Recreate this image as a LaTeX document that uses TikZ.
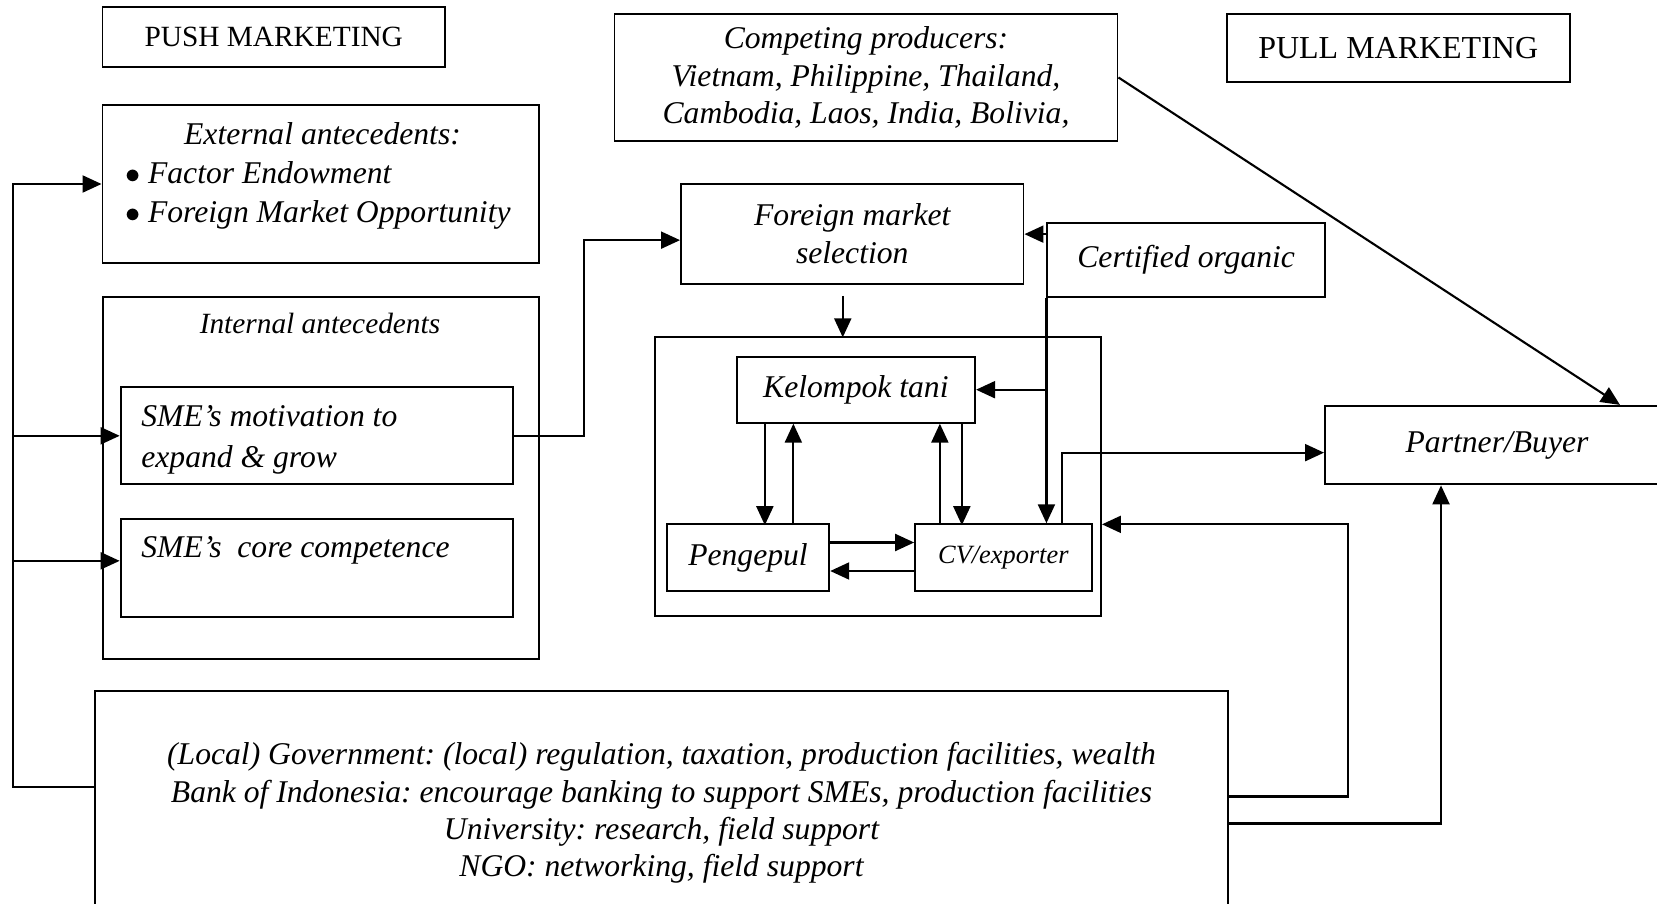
\documentclass[tikz,border=0pt]{standalone}
\usepackage{fontspec}
\setmainfont{Liberation Serif}
\usetikzlibrary{arrows.meta}
\frenchspacing

\begin{document}
\begin{tikzpicture}[box/.style={draw, line width=1.1pt, inner sep=0pt, align=center,
    font=\fontsize{18}{21.6}\selectfont\itshape},
  txt/.style={inner sep=0pt, font=\fontsize{18}{22}\selectfont\itshape},
  arr/.style={line width=1.2pt, -{Triangle[length=0.38cm,width=0.34cm]}}]
\clip (0,0) rectangle (33.14,-18.08);
% Push side
\node[box, font=\fontsize{16.7}{20}\selectfont, minimum width=6.85cm, minimum height=1.2cm] (push) at (5.475,-0.746) {PUSH MARKETING};
\node[box, minimum width=8.73cm, minimum height=3.16cm] (ext) at (6.415,-3.68) {};
\node[txt, text width=7.9cm, align=flush left] (extT) at (6.45,-3.52) {{\centering External antecedents:\par}
  $\bullet$ Factor Endowment\\ $\bullet$ Foreign Market Opportunity};
\node[box, minimum width=8.72cm, minimum height=7.25cm] (intl) at (6.419,-9.557) {};
\node[txt, font=\fontsize{16.7}{20}\selectfont\itshape, anchor=base] (intlT) at (6.4,-6.68) {Internal antecedents};
\node[box, minimum width=7.85cm, minimum height=1.94cm] (motiv) at (6.337,-8.716) {};
\node[txt, font=\fontsize{18}{23.4}\selectfont\itshape, align=left, anchor=west] (motivT) at (2.82,-8.80) {SME’s motivation to\\expand \& grow};
\node[box, minimum width=7.85cm, minimum height=1.95cm] (core) at (6.337,-11.357) {};
\node[txt, anchor=base west] (coreT) at (2.82,-11.154) {SME’s~ core competence};
% Middle
\node[box, minimum width=10.06cm, minimum height=2.53cm] (comp) at (17.32,-1.55) {Competing producers:\\Vietnam, Philippine, Thailand,\\Cambodia, Laos, India, Bolivia,};
\node[box, minimum width=6.85cm, minimum height=2.01cm] (fms) at (17.045,-4.683) {Foreign market\\selection};
\node[box, minimum width=5.55cm, minimum height=1.48cm] (cert) at (23.723,-5.194) {Certified organic};
\node[box, minimum width=8.92cm, minimum height=5.59cm] (chain) at (17.56,-9.527) {};
\node[box, minimum width=4.77cm, minimum height=1.32cm] (tani) at (17.117,-7.794) {Kelompok tani};
\node[box, minimum width=3.25cm, minimum height=1.33cm] (peng) at (14.96,-11.15) {Pengepul};
\node[box, font=\fontsize{15}{18}\selectfont\itshape, minimum width=3.53cm, minimum height=1.33cm] (cv) at (20.067,-11.15) {CV/exporter};
% Pull side
\node[box, font=\fontsize{18.2}{21.6}\selectfont, minimum width=6.86cm, minimum height=1.35cm] (pull) at (27.964,-0.96) {PULL MARKETING};
\node[box, minimum width=6.88cm, minimum height=1.57cm] (buyer) at (29.94,-8.903) {Partner/Buyer};
% Supporting institutions
\node[box, font=\fontsize{18}{21.2}\selectfont\itshape, minimum width=22.66cm, minimum height=4.88cm] (gov) at (13.23,-16.26) {(Local) Government: (local) regulation, taxation, production facilities, wealth\\
  Bank of Indonesia: encourage banking to support SMEs, production facilities\\
  University: research, field support\\
  NGO: networking, field support};

% connectors
\coordinate (bus) at (0.26,0);
\draw[arr] ([yshift=0.52cm]gov.west) -| (bus |- ext.west) -- (ext.west);
\draw[arr] (bus |- motiv.west) -- (motiv.west);
\draw[arr] ([yshift=0.14cm]core.west) ++(-2.15,0) -- ([yshift=0.14cm]core.west);
\draw[arr] (motiv.east) -- ++(1.4,0) |- ([yshift=-0.12cm]fms.west);
\draw[arr] (fms.east -| cert.west) -- (fms.east);
\draw[arr] (cert.south west) -- (cert.south west |- cv.north);
\draw[arr] (tani.east -| cert.west) -- (tani.east);
\draw[arr] ([xshift=-0.19cm,yshift=-0.21cm]fms.south) -- ++(0,-0.83);
\draw[arr] ([xshift=-1.82cm]tani.south) -- ++(0,-2.03);
\draw[arr] ([xshift=-1.25cm]tani.south) ++(0,-2.03) -- ([xshift=-1.25cm]tani.south);
\draw[arr] ([xshift=1.68cm]tani.south) ++(0,-2.03) -- ([xshift=1.68cm]tani.south);
\draw[arr] ([xshift=2.12cm]tani.south) -- ++(0,-2.03);
\draw[arr] ([yshift=0.3cm]peng.east) -- ([yshift=0.3cm]cv.west);
\draw[arr] ([yshift=-0.27cm]cv.west) -- ([yshift=-0.27cm]peng.east);
\draw[arr] ([xshift=1.17cm]cv.north) |- ([yshift=-0.15cm]buyer.west);
\draw[arr] (comp.east) -- ([xshift=2.46cm]buyer.north);
\draw[arr] ([yshift=0.33cm]gov.east) -- ++(2.38,0) |- ([yshift=-0.96cm]chain.east);
\draw[arr] ([yshift=-0.21cm]gov.east) -| ([xshift=-1.12cm]buyer.south);
\end{tikzpicture}
\end{document}
